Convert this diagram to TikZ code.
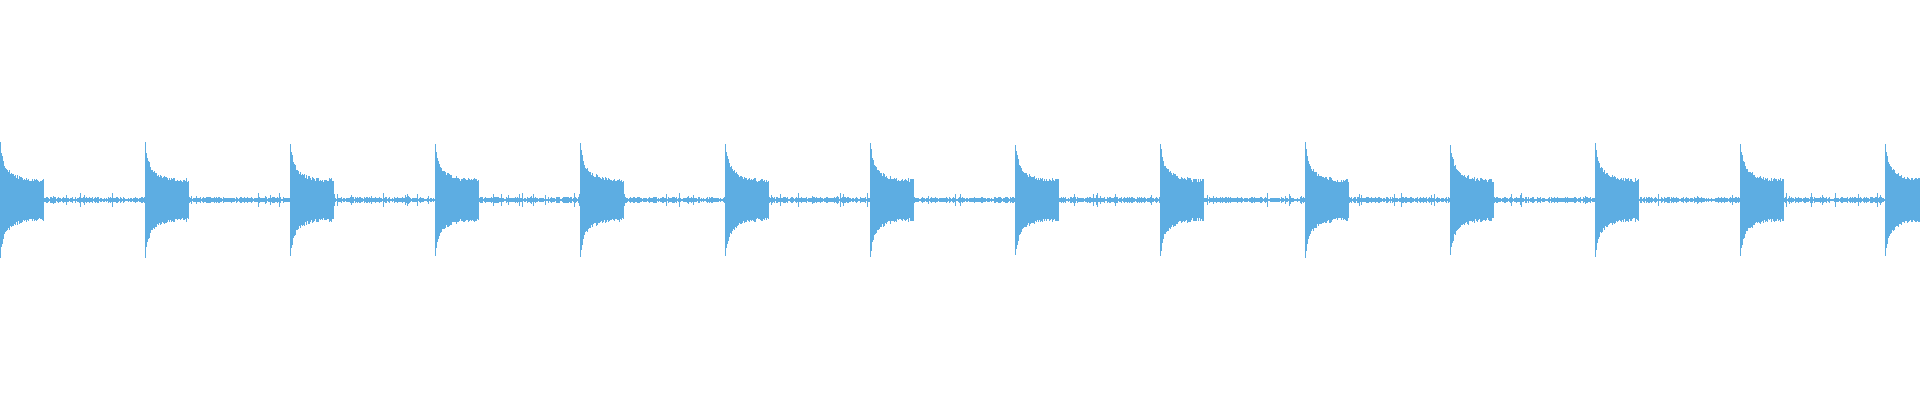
\documentclass[tikz,border=0pt]{standalone}
\definecolor{wavec}{RGB}{93,173,226}
\begin{document}
\begin{tikzpicture}[x=1pt,y=1pt,wave/.style={fill=wavec}]
\useasboundingbox (0,0) rectangle (1920,400);
\pgfmathsetseed{7}
\foreach \i in {0,...,1919}{
  \pgfmathsetmacro\t{mod(\i,145)}
  \pgfmathsetmacro\a{\t<44 ? (17+18*exp(-\t/12)+20*exp(-\t/2.5)+4*rnd) : (rnd>0.92 ? (2.5+5*rnd) : (1.2+1.8*rnd))}
  \fill[wave] (\i,200-\a) rectangle (\i+1.1,200+\a);
}
\end{tikzpicture}
\end{document}
